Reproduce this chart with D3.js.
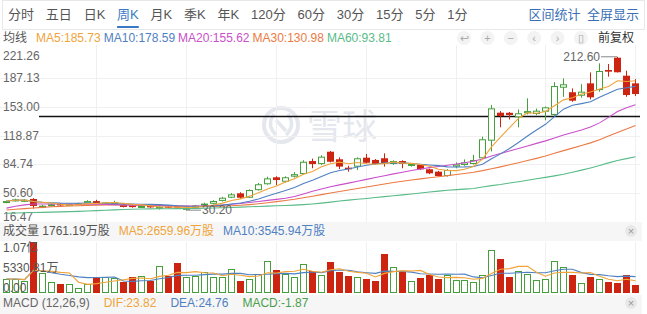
<!DOCTYPE html>
<html>
<head>
<meta charset="utf-8">
<script src="https://cdn.jsdelivr.net/npm/d3@7"></script>
<style>
html, body { margin: 0; padding: 0; background: #fff; }
svg { display: block; font-family: "Liberation Sans", "Noto Sans CJK SC", sans-serif; }
</style>
</head>
<body>
<svg id="chart" width="647" height="314"></svg>
<script>
// weekly K data
const opens = [39.5,41.2,40.5,43.5,33.2,35.5,37.5,35.8,37.5,38.3, 41.0,38.0,39.0,36.5,36.0,33.8,35.5,31.8,34.5,35.0,
  31.0,33.0,35.8,37.8,41.2,45.0,50.2,45.0,54.0,61.0, 69.3,64.0,70.0,73.2,88.6,85.0,99.7,90.7,80.7,81.9,
  92.6,89.9,91.9,85.1,88.6,82.7,83.9,78.8,76.0,70.8, 81.9,83.9,85.1,91.9,112.8,146.1,146.0,140.6,145.4,144.6,
  147.3,143.4,175.8,170.4,166.3,181.0,173.0,196.9,211.5,190.1,181.0];
const highs = [41.5,43.8,43.5,44.5,36.5,37.5,38.5,38.0,39.0,42.0, 42.5,40.0,41.5,38.5,37.0,36.0,36.5,34.8,35.5,36.0,
  33.5,36.5,39.0,42.0,46.0,50.5,51.5,55.0,62.5,70.0, 70.5,70.5,75.5,89.5,91.5,95.5,100.5,93.0,83.0,93.0,
  97.0,91.0,97.8,89.5,89.5,86.0,85.0,79.5,77.0,79.0, 87.0,90.5,96.0,117.6,155.3,148.0,147.0,150.0,163.2,151.0,
  153.5,182.3,186.9,175.0,180.0,194.0,204.8,204.0,212.6,196.0,186.0];
const lows = [38.5,40.5,39.8,32.0,32.5,34.8,35.0,35.0,36.8,37.8, 37.5,37.2,38.2,33.5,33.2,33.0,33.0,31.0,32.5,32.0,
  30.2,32.5,35.0,37.0,40.5,44.5,44.0,44.5,53.5,60.5, 60.0,63.0,69.0,72.5,80.0,84.0,87.0,79.0,76.0,78.0,
  86.0,84.0,82.0,84.0,80.0,82.0,78.0,73.0,70.0,70.0, 80.0,83.0,84.5,91.0,100.0,128.7,138.0,128.7,144.0,143.0,
  137.0,141.0,165.0,159.0,164.0,162.0,171.0,189.0,194.0,165.0,166.0];
const closes = [41.0,43.0,42.5,35.2,35.5,37.2,35.8,37.5,38.5,41.0, 38.0,39.5,39.8,34.0,33.8,35.2,33.5,34.2,33.0,33.2,
  33.0,35.8,38.0,41.1,45.0,49.0,45.0,54.2,61.0,68.0, 66.0,69.3,73.0,87.8,85.0,93.8,87.8,82.0,78.8,91.9,
  86.6,85.1,85.1,88.6,85.1,85.1,78.8,74.0,70.8,78.0, 84.7,87.0,89.9,114.5,151.3,142.2,143.4,145.4,148.0,148.5,
  152.5,177.8,179.9,160.4,171.1,164.4,195.7,194.9,194.2,167.1,168.3];
// volume in 万股
const volumes = [2937,2937,2518,10700,4196,2308,1888,1888,1049,1888, 3147,3357,3147,2308,3357,3567,2518,5665,3567,6294,
  3357,3567,4406,3357,3357,5035,2518,2937,3986,6714, 4825,3986,3357,6084,4616,3776,6504,4406,3567,3357,
  2937,2518,8182,5455,4406,2518,3147,3776,2937,3776, 2727,2727,2308,3776,9021,7133,3357,4616,3986,2727,
  2937,6714,5455,3776,2098,3357,2937,2308,2098,3776,1761.19];
// long moving averages (need history before the first visible week)
const ma20 = [32.6,34.8,36.5,37.5,37.6,37.6,37.5,37.4,37.3,37.2, 37.2,37.1,36.8,36.4,36.1,35.9,35.7,35.5,35.3,35.2,
  35.1,35.2,35.4,35.8,36.4,37.2,38.2,39.3,40.5,41.8, 43.0,44.3,46.5,49.5,52.6,55.4,58.0,60.3,62.3,64.5,
  66.8,69.0,71.2,73.3,75.3,77.3,79.2,80.8,82.2,83.6, 85.0,86.5,88.4,91.0,94.5,97.5,100.6,103.6,106.6,109.6,
  112.6,116.0,119.5,122.6,125.6,129.0,134.0,140.5,147.5,152.0,155.62];
const ma30 = [30.4,31.2,32.0,32.8,33.5,34.2,34.7,35.1,35.5,35.9, 36.2,36.4,36.5,36.5,36.4,36.2,36.0,35.7,35.4,35.1,
  34.8,34.6,34.5,34.6,34.9,35.4,36.0,36.8,37.8,39.0, 40.3,41.7,43.1,44.9,46.8,48.7,50.6,52.4,54.2,56.0,
  57.8,59.6,61.4,63.0,64.5,66.0,67.4,68.7,70.0,71.3, 72.6,73.8,75.2,77.2,79.5,81.7,84.1,86.6,89.2,91.8,
  94.6,97.8,101.0,104.0,107.0,110.2,114.0,118.5,122.6,126.6,130.98];
const ma60 = [26.6,26.9,27.1,27.4,27.6,27.9,28.2,28.5,28.8,29.2, 29.6,30.0,30.5,31.0,31.3,31.5,31.7,31.8,31.9,32.0,
  32.1,32.2,32.4,32.7,33.0,33.4,33.8,34.2,34.6,35.0, 35.4,35.8,36.2,36.8,37.6,38.6,39.8,41.0,42.1,43.1,
  44.1,45.2,46.3,47.4,48.4,49.5,50.6,51.7,52.8,53.8, 54.6,55.2,56.0,57.7,59.4,60.8,62.5,64.0,65.7,67.5,
  69.2,71.0,73.0,75.3,77.8,80.4,83.2,86.4,89.3,91.5,93.81];

const priceTicks = [221.26, 187.13, 153.00, 118.87, 84.74, 50.60, 16.47];
const volTicks = [10700, 5330.81, 0];
const volTickLabels = ["1.07亿", "5330.81万", "0.00"];
const refPrice = 142.2;

const tabs = ["分时","五日","日K","周K","月K","季K","年K","120分","60分","30分","15分","5分","1分"];
const activeTab = "周K";
const maLegend = [["MA5:185.73","#f0a43a"],["MA10:178.59","#4f80c2"],["MA20:155.62","#c94fcb"],["MA30:130.98","#ec7a43"],["MA60:93.81","#58bb88"]];
const volLegend = [["成交量 1761.19万股","#555"],["MA5:2659.96万股","#f0a43a"],["MA10:3545.94万股","#4f80c2"]];
const macdLegend = [["MACD (12,26,9)","#666"],["DIF:23.82","#f0a43a"],["DEA:24.76","#4f80c2"],["MACD:-1.87","#4aa04a"]];

const UP = "#45a03c", DOWN = "#cc2410", GRID = "#f0f0f0";
const svg = d3.select("#chart");
const idx = d3.range(closes.length);

function movingAvg(arr, n) {
  return arr.map((_, i) => d3.mean(arr.slice(Math.max(0, i - n + 1), i + 1)));
}
const ma5 = movingAvg(closes, 5), ma10 = movingAvg(closes, 10);
const vma5 = movingAvg(volumes, 5), vma10 = movingAvg(volumes, 10);

const x = d3.scaleBand().domain(idx).range([1.5, 639.8]).paddingInner(0.22).paddingOuter(0.11);
const cx = i => Math.round(x(i) + x.bandwidth() / 2);
const y = d3.scaleLinear().domain([16.47, 221.26]).range([221.7, 49.5]);
const yv = d3.scaleLinear().domain([0, 10700]).range([293, 242]);

// tab bar
svg.append("rect").attr("x", 2.5).attr("y", 0.5).attr("width", 642).attr("height", 29)
  .attr("fill", "none").attr("stroke", "#e8e8e8");
let tx = 8;
tabs.forEach(t => {
  const el = svg.append("text").attr("x", tx).attr("y", 19).attr("font-size", 13)
    .attr("fill", t === activeTab ? "#3a78c3" : "#555").text(t);
  const w = el.node().getComputedTextLength();
  if (t === activeTab) svg.append("rect").attr("x", tx).attr("y", 26).attr("width", w).attr("height", 2).attr("fill", "#3a78c3");
  tx += w + 11.8;
});
svg.append("text").attr("x", 639).attr("y", 19).attr("font-size", 13).attr("text-anchor", "end")
  .attr("fill", "#3a6fb5").text("区间统计\u2002全屏显示");

// legend rows
function legendRow(items, x0, yb, gap) {
  let lx = x0;
  items.forEach(([t, c]) => {
    const el = svg.append("text").attr("x", lx).attr("y", yb).attr("font-size", 12).attr("fill", c).text(t);
    lx += el.node().getComputedTextLength() + gap;
  });
}
svg.append("text").attr("x", 3).attr("y", 42).attr("font-size", 12).attr("fill", "#555").text("均线");
legendRow(maLegend, 36, 42, 3);
const icons = ["↩", "+", "−", "‹", "›", "▯"];
icons.forEach((ic, k) => {
  const ix = 464 + k * 23.4;
  svg.append("circle").attr("cx", ix).attr("cy", 38).attr("r", 7).attr("fill", "#f3f3f3");
  svg.append("text").attr("x", ix).attr("y", 42).attr("font-size", 11).attr("text-anchor", "middle").attr("fill", "#aaa").text(ic);
});
svg.append("text").attr("x", 598).attr("y", 42).attr("font-size", 12).attr("fill", "#333").text("前复权");

// watermark
const wm = svg.append("g").attr("fill", "none").attr("stroke", "#e4e7ee");
wm.append("circle").attr("cx", 281).attr("cy", 125).attr("r", 17).attr("stroke-width", 4);
wm.append("path").attr("d", "M274,114 Q266,125 276,135 M288,114 Q296,125 286,135 M276,120 L286,131").attr("stroke-width", 3.5);
svg.append("text").attr("x", 307).attr("y", 139).attr("font-size", 35).attr("fill", "#e4e7ee").text("雪球");

// grid
const gridIdx = idx.filter(i => i > 0 && i % 10 === 0);
svg.append("g").selectAll("line").data(priceTicks.slice(1, -1)).join("line")
  .attr("x1", 0).attr("x2", 640).attr("y1", d => Math.round(y(d)) + 0.5).attr("y2", d => Math.round(y(d)) + 0.5)
  .attr("stroke", GRID);
svg.append("g").selectAll("line").data(gridIdx).join("line")
  .attr("x1", d => cx(d) + 0.5).attr("x2", d => cx(d) + 0.5).attr("y1", 45).attr("y2", 222)
  .attr("stroke", GRID);
svg.append("g").selectAll("line").data(gridIdx).join("line")
  .attr("x1", d => cx(d) + 0.5).attr("x2", d => cx(d) + 0.5).attr("y1", 242).attr("y2", 294)
  .attr("stroke", GRID);

// price axis labels
svg.append("g").selectAll("text").data(priceTicks).join("text")
  .attr("x", 3).attr("y", d => Math.max(60, Math.min(221, y(d) + 4)))
  .attr("font-size", 12).attr("fill", "#666").text(d => d.toFixed(2));

// reference line
svg.append("line").attr("x1", 39).attr("x2", 640).attr("y1", Math.round(y(refPrice)) + 0.5).attr("y2", Math.round(y(refPrice)) + 0.5)
  .attr("stroke", "#111").attr("stroke-width", 1.3);

// candles
const up = i => closes[i] >= opens[i];
const cg = svg.append("g");
cg.selectAll("line.wick").data(idx).join("line").attr("class", "wick")
  .attr("x1", i => cx(i) + 0.5).attr("x2", i => cx(i) + 0.5)
  .attr("y1", i => y(highs[i])).attr("y2", i => y(lows[i]))
  .attr("stroke", i => up(i) ? UP : DOWN);
cg.selectAll("rect.body").data(idx).join("rect").attr("class", "body")
  .attr("x", i => cx(i) - 3 + (up(i) ? 0.5 : 0))
  .attr("width", i => up(i) ? 6 : 7)
  .attr("y", i => y(Math.max(opens[i], closes[i])) + (up(i) ? 0.5 : 0))
  .attr("height", i => Math.max(1, Math.abs(y(opens[i]) - y(closes[i])) - (up(i) ? 1 : 0)))
  .attr("fill", i => up(i) ? "#fff" : DOWN)
  .attr("stroke", i => up(i) ? UP : "none");

// moving averages
const line = d3.line().x((d, i) => cx(i) + 0.5).y(d => y(d));
[[ma60, "#58bb88"], [ma30, "#ec7a43"], [ma20, "#c94fcb"], [ma10, "#4f80c2"], [ma5, "#f0a43a"]].forEach(([s, c]) => {
  svg.append("path").attr("d", line(s)).attr("fill", "none").attr("stroke", c).attr("stroke-width", 1.1);
});

// max / min marks
const iMax = d3.maxIndex(highs), iMin = d3.minIndex(lows);
svg.append("line").attr("x1", cx(iMax) - 16).attr("x2", cx(iMax)).attr("y1", y(highs[iMax])).attr("y2", y(highs[iMax])).attr("stroke", "#888");
svg.append("text").attr("x", cx(iMax) - 17).attr("y", y(highs[iMax]) + 4).attr("text-anchor", "end")
  .attr("font-size", 12).attr("fill", "#666").text(highs[iMax].toFixed(2));
svg.append("line").attr("x1", cx(iMin)).attr("x2", cx(iMin) + 15).attr("y1", y(lows[iMin])).attr("y2", y(lows[iMin])).attr("stroke", "#888");
svg.append("text").attr("x", cx(iMin) + 16).attr("y", y(lows[iMin]) + 4)
  .attr("font-size", 12).attr("fill", "#666").text(lows[iMin].toFixed(2));

// volume panel
svg.append("rect").attr("x", 0).attr("y", 222).attr("width", 642).attr("height", 19).attr("fill", "#f6f6f6");
legendRow(volLegend, 3, 235, 9);
svg.append("g").selectAll("rect").data(idx).join("rect")
  .attr("x", i => cx(i) - 3 + (up(i) ? 0.5 : 0))
  .attr("width", i => up(i) ? 6 : 7)
  .attr("y", i => Math.round(yv(volumes[i])) + (up(i) ? 0.5 : 0))
  .attr("height", i => 293 - Math.round(yv(volumes[i])) - (up(i) ? 1 : 0))
  .attr("fill", i => up(i) ? "#fff" : DOWN)
  .attr("stroke", i => up(i) ? UP : "none");
const vline = d3.line().x((d, i) => cx(i) + 0.5).y(d => yv(d));
svg.append("path").attr("d", vline(vma10)).attr("fill", "none").attr("stroke", "#4f80c2").attr("stroke-width", 1.1);
svg.append("path").attr("d", vline(vma5)).attr("fill", "none").attr("stroke", "#f0a43a").attr("stroke-width", 1.1);
svg.append("g").selectAll("text").data(volTicks).join("text")
  .attr("x", 3).attr("y", d => Math.max(252, Math.min(292, yv(d) + 4)))
  .attr("font-size", 12).attr("fill", "#555").text((d, k) => volTickLabels[k]);

// macd header
svg.append("rect").attr("x", 0).attr("y", 295).attr("width", 642).attr("height", 19).attr("fill", "#f6f6f6");
legendRow(macdLegend, 3, 307, 14);

// close buttons
[231, 303].forEach(cy => {
  svg.append("circle").attr("cx", 631).attr("cy", cy).attr("r", 6).attr("fill", "#e8e8e8");
  svg.append("text").attr("x", 631).attr("y", cy + 4).attr("text-anchor", "middle").attr("font-size", 11).attr("fill", "#999").text("×");
});
</script>
</body>
</html>
